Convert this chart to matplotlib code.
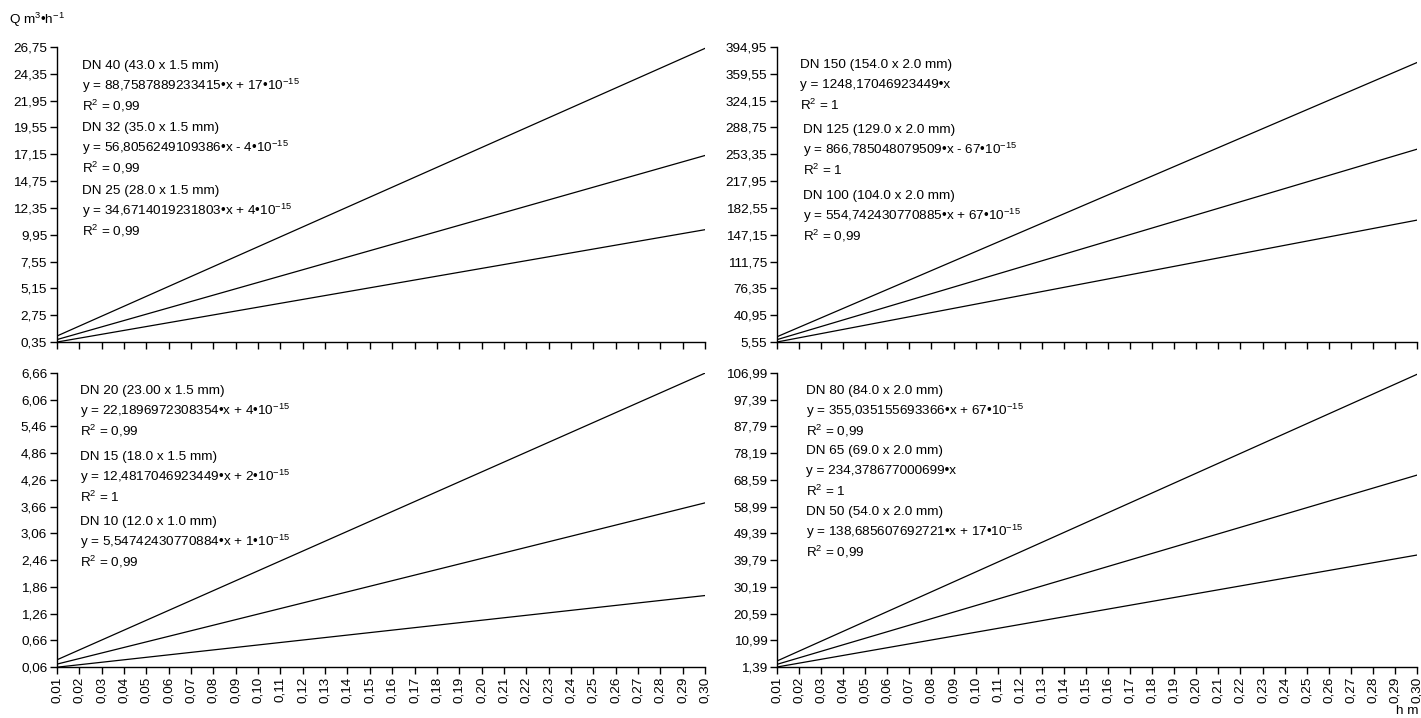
import numpy as np
import matplotlib
matplotlib.use("Agg")
import matplotlib.pyplot as plt

plt.rcParams['font.family'] = ['Liberation Sans', 'DejaVu Sans']
plt.rcParams['mathtext.fontset'] = 'custom'
plt.rcParams['mathtext.rm'] = 'Liberation Sans'
plt.rcParams['mathtext.it'] = 'Liberation Sans'
plt.rcParams['font.size'] = 9.7

# flow head h, m
h_ticks = [round(0.01 * i, 2) for i in range(1, 31)]
h_range = [0.01, 0.30]

# panel data: pipe labels, trendline slope and intercept text
tl_names = ["DN 40 (43.0 x 1.5 mm)", "DN 32 (35.0 x 1.5 mm)", "DN 25 (28.0 x 1.5 mm)"]
tl_slopes = [88.7587889233415, 56.8056249109386, 34.6714019231803]
tl_eq = ["88,7587889233415•x + 17•10$^{-15}$", "56,8056249109386•x - 4•10$^{-15}$",
         "34,6714019231803•x + 4•10$^{-15}$"]
tl_r2 = ["0,99", "0,99", "0,99"]
tl_yticks = [0.35, 2.75, 5.15, 7.55, 9.95, 12.35, 14.75, 17.15, 19.55, 21.95, 24.35, 26.75]

tr_names = ["DN 150 (154.0 x 2.0 mm)", "DN 125 (129.0 x 2.0 mm)", "DN 100 (104.0 x 2.0 mm)"]
tr_slopes = [1248.17046923449, 866.785048079509, 554.742430770885]
tr_eq = ["1248,17046923449•x", "866,785048079509•x - 67•10$^{-15}$",
         "554,742430770885•x + 67•10$^{-15}$"]
tr_r2 = ["1", "1", "0,99"]
tr_yticks = [5.55, 40.95, 76.35, 111.75, 147.15, 182.55, 217.95, 253.35, 288.75, 324.15, 359.55, 394.95]

bl_names = ["DN 20 (23.00 x 1.5 mm)", "DN 15 (18.0 x 1.5 mm)", "DN 10 (12.0 x 1.0 mm)"]
bl_slopes = [22.1896972308354, 12.4817046923449, 5.54742430770884]
bl_eq = ["22,1896972308354•x + 4•10$^{-15}$", "12,4817046923449•x + 2•10$^{-15}$",
         "5,54742430770884•x + 1•10$^{-15}$"]
bl_r2 = ["0,99", "1", "0,99"]
bl_yticks = [0.06, 0.66, 1.26, 1.86, 2.46, 3.06, 3.66, 4.26, 4.86, 5.46, 6.06, 6.66]

br_names = ["DN 80 (84.0 x 2.0 mm)", "DN 65 (69.0 x 2.0 mm)", "DN 50 (54.0 x 2.0 mm)"]
br_slopes = [355.035155693366, 234.378677000699, 138.685607692721]
br_eq = ["355,035155693366•x + 67•10$^{-15}$", "234,378677000699•x",
         "138,685607692721•x + 17•10$^{-15}$"]
br_r2 = ["0,99", "1", "0,99"]
br_yticks = [1.39, 10.99, 20.59, 30.19, 39.79, 49.39, 58.99, 68.59, 78.19, 87.79, 97.39, 106.99]

W, H = 1421, 718
fig = plt.figure(figsize=(W / 100, H / 100), dpi=100)


def box(l, t, r, b):
    return [l / W, 1 - b / H, (r - l) / W, (b - t) / H]


def panel(rect, slopes, names, eqs, r2s, yticks, text_x, text_y, xlabels):
    ax = fig.add_axes(box(*rect))
    xs = np.array(h_range)
    for s in slopes:
        ax.plot(xs, s * xs, color='black', lw=0.9)
    ax.set_xlim(h_range)
    ax.set_ylim(yticks[0], yticks[-1])
    ax.set_xticks(h_ticks)
    if xlabels:
        ax.set_xticklabels([f"{v:.2f}".replace('.', ',') for v in h_ticks], rotation=90)
    else:
        ax.set_xticklabels([])
    ax.set_yticks(yticks)
    ax.set_yticklabels([f"{v:.2f}".replace('.', ',') for v in yticks])
    for sp in ['top', 'right']:
        ax.spines[sp].set_visible(False)
    for sp in ['left', 'bottom']:
        ax.spines[sp].set_linewidth(1.0)
    ax.tick_params(direction='out', length=5, width=1, labelsize=9.7, pad=2)
    for i in range(3):
        x0 = text_x[i] / W
        y0 = text_y[i]
        fig.text(x0, 1 - y0 / H, names[i], va='center', ha='left')
        fig.text(x0, 1 - (y0 + 20) / H, "y = " + eqs[i], va='center', ha='left')
        fig.text(x0, 1 - (y0 + 40) / H, "R$^2$ = " + r2s[i], va='center', ha='left')
    return ax


panel((57, 47, 705, 342), tl_slopes, tl_names, tl_eq, tl_r2, tl_yticks,
      [82, 82, 82], [66, 128, 191], False)
panel((777, 47, 1417, 342), tr_slopes, tr_names, tr_eq, tr_r2, tr_yticks,
      [800, 803, 803], [65, 130, 196], False)
panel((57, 373, 705, 667), bl_slopes, bl_names, bl_eq, bl_r2, bl_yticks,
      [80, 80, 80], [391, 457, 522], True)
panel((777, 373, 1417, 667), br_slopes, br_names, br_eq, br_r2, br_yticks,
      [806, 806, 806], [391, 451, 512], True)

fig.text(9 / W, 1 - 20 / H, "Q m$^3$•h$^{-1}$", va='center', ha='left')
fig.text(1419 / W, 1 - 711 / H, "h m", va='center', ha='right')

fig.savefig("out.png", dpi=100)
